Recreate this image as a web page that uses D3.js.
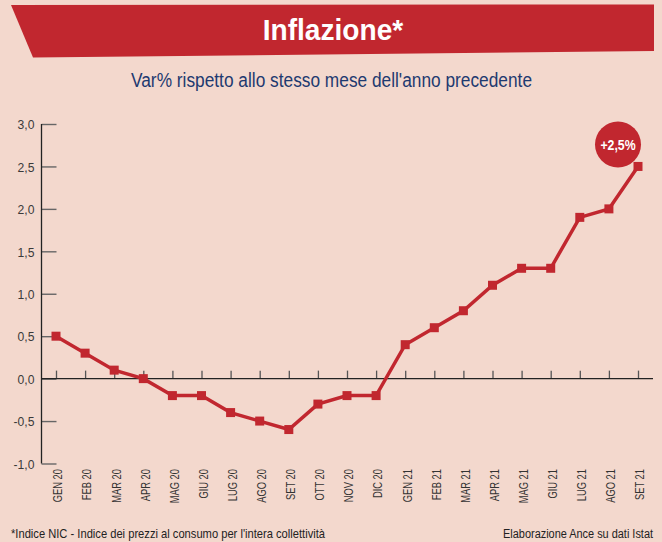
<!DOCTYPE html>
<html>
<head>
<meta charset="utf-8">
<script src="https://cdn.jsdelivr.net/npm/d3@7"></script>
<style>
  html, body { margin: 0; padding: 0; background: #f3d8cd; }
  svg { display: block; }
  text { font-family: "Liberation Sans", Arial, sans-serif; }
</style>
</head>
<body>
<svg class="chart"></svg>
<script>
const months = ["GEN 20", "FEB 20", "MAR 20", "APR 20", "MAG 20", "GIU 20", "LUG 20", "AGO 20", "SET 20", "OTT 20", "NOV 20", "DIC 20",
  "GEN 21", "FEB 21", "MAR 21", "APR 21", "MAG 21", "GIU 21", "LUG 21", "AGO 21", "SET 21"];
const values = [0.5, 0.3, 0.1, 0.0, -0.2, -0.2, -0.4, -0.5, -0.6, -0.3, -0.2, -0.2,
  0.4, 0.6, 0.8, 1.1, 1.3, 1.3, 1.9, 2.0, 2.5];
const yTicks = [-1.0, -0.5, 0.0, 0.5, 1.0, 1.5, 2.0, 2.5, 3.0];
const title = "Inflazione*";
const subtitle = "Var% rispetto allo stesso mese dell'anno precedente";
const badge = "+2,5%";
const noteLeft = "*Indice NIC - Indice dei prezzi al consumo per l'intera collettività";
const noteRight = "Elaborazione Ance su dati Istat";

const W = 662, H = 542;
const red = "#c1272f";
const fmt = v => d3.format(".1f")(v).replace(".", ",").replace("−", "-");

const svg = d3.select('.chart')
  .attr('width', W)
  .attr('height', H);

// condensed look: squeeze text along its length
function squeeze(sel, x, y, sx, rot) {
  sel.attr('transform', `translate(${x},${y})` + (rot ? ` rotate(${rot})` : '') +
    ` scale(${sx},1)`);
  return sel;
}

// header band
svg.append('path')
  .attr('d', 'M11,5 L654,4.5 L654,51 L33,57.5 Z')
  .attr('fill', red);

svg.append('text')
  .attr('text-anchor', 'middle')
  .attr('fill', '#fff')
  .attr('font-weight', 'bold')
  .attr('font-size', 29)
  .text(title)
  .call(squeeze, 333, 39.5, 0.97);

svg.append('text')
  .attr('x', 131)
  .attr('y', 87)
  .attr('fill', '#1e3a70')
  .attr('font-size', 19.5)
  .attr('textLength', 401)
  .attr('lengthAdjust', 'spacingAndGlyphs')
  .text(subtitle);

const x = d3.scalePoint()
  .domain(months)
  .range([56, 638]);

const y = d3.scaleLinear()
  .domain([-1, 3])
  .range([463.5, 124]);

const axisX0 = 41.5;

// y axis: ticks pointing inward
const yAxis = d3.axisRight(y)
  .tickValues(yTicks)
  .tickSize(15)
  .tickFormat('');

svg.append('g')
  .attr('class', 'y axis')
  .attr('transform', `translate(${axisX0},0)`)
  .call(yAxis)
  .call(g => g.select('.domain').remove())
  .call(g => g.selectAll('.tick line').attr('stroke', '#666').attr('stroke-width', 1.4));

svg.append('line')
  .attr('x1', axisX0).attr('x2', axisX0)
  .attr('y1', y(3)).attr('y2', y(-1))
  .attr('stroke', '#222')
  .attr('stroke-width', 1.3);

svg.append('g')
  .selectAll('text')
  .data(yTicks)
  .join('text')
  .attr('text-anchor', 'end')
  .attr('fill', '#3a3a3a')
  .attr('font-size', 13.5)
  .text(fmt)
  .each(function(d) { squeeze(d3.select(this), 34.5, y(d) + 5.3, 0.9); });

// x axis at zero
const xAxis = d3.axisTop(x)
  .tickSize(8)
  .tickFormat('');

svg.append('g')
  .attr('class', 'x axis')
  .attr('transform', `translate(0,${y(0)})`)
  .call(xAxis)
  .call(g => g.select('.domain').remove())
  .call(g => g.selectAll('.tick line').attr('stroke', '#555').attr('stroke-width', 1.3));

svg.append('line')
  .attr('x1', axisX0).attr('x2', 653)
  .attr('y1', y(0)).attr('y2', y(0))
  .attr('stroke', '#222')
  .attr('stroke-width', 1.3);

svg.append('g')
  .selectAll('text')
  .data(months)
  .join('text')
  .attr('text-anchor', 'end')
  .attr('fill', '#333')
  .attr('font-size', 13)
  .text(d => d)
  .each(function(d) { squeeze(d3.select(this), x(d) + 6.3, 469, 0.72, -90); });

// line
const line = d3.line()
  .x((d, i) => x(months[i]))
  .y(d => y(d));

svg.append('path')
  .datum(values)
  .attr('fill', 'none')
  .attr('stroke', red)
  .attr('stroke-width', 3.5)
  .attr('d', line);

svg.append('g')
  .selectAll('rect')
  .data(values)
  .join('rect')
  .attr('x', (d, i) => x(months[i]) - 4.5)
  .attr('y', d => y(d) - 4.5)
  .attr('width', 9)
  .attr('height', 9)
  .attr('fill', red);

// badge on last value
const last = values.length - 1;
const bx = x(months[last]) - 20, by = y(values[last]) - 22;
svg.append('circle')
  .attr('cx', bx)
  .attr('cy', by)
  .attr('r', 23)
  .attr('fill', red);
svg.append('text')
  .attr('text-anchor', 'middle')
  .attr('fill', '#fff')
  .attr('font-weight', 'bold')
  .attr('font-size', 15)
  .text(badge)
  .call(squeeze, bx, by + 5.5, 0.82);

// footnotes
svg.append('text')
  .attr('x', 11)
  .attr('y', 537.5)
  .attr('fill', '#222')
  .attr('font-size', 13.5)
  .attr('textLength', 314)
  .attr('lengthAdjust', 'spacingAndGlyphs')
  .text(noteLeft);

svg.append('text')
  .attr('text-anchor', 'end')
  .attr('fill', '#222')
  .attr('font-size', 13.5)
  .text(noteRight)
  .call(squeeze, 653, 537.5, 0.81);
</script>
</body>
</html>
